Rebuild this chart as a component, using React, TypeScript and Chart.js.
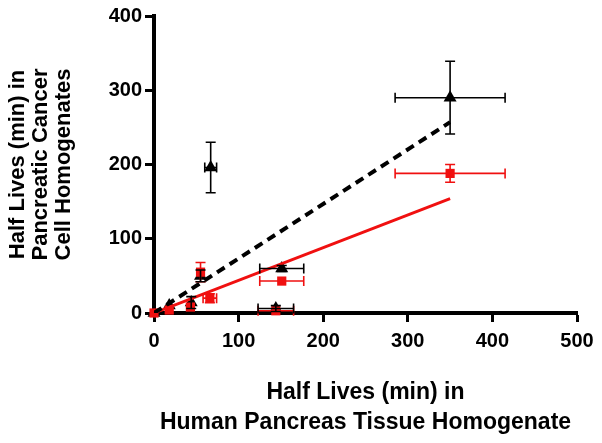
import React, { useEffect, useRef } from "react";
import { Chart, registerables } from "chart.js";

Chart.register(...registerables);

// Black triangles (series 1)
const blackX = [0, 18, 44, 55, 67, 144, 151, 350];
const blackY = [0, 10, 14, 50, 196, 6, 60, 290];
const blackXErr = [0, 0, 0, 0, 7, 21, 26, 65];
const blackYErr = [0, 0, 8, 8, 34, 4, 4, 49];

// Red squares (series 2)
const redX = [0, 18, 43, 55, 66, 144, 151, 350];
const redY = [0, 4, 8, 55, 20, 3, 43, 188];
const redXErr = [0, 0, 0, 0, 8, 21, 26, 65];
const redYErr = [0, 0, 0, 13, 6, 0, 0, 12];

// Regression lines
const blackFitX = [0, 350];
const blackFitY = [0, 257];
const redFitX = [0, 350];
const redFitY = [0, 154];

const xTicks = [0, 100, 200, 300, 400, 500];
const yTicks = [0, 100, 200, 300, 400];

const xTitle = ["Half Lives (min) in", "Human Pancreas Tissue Homogenate"];
const yTitle = ["Half Lives (min) in", "Pancreatic Cancer", "Cell Homogenates"];

const BLACK = "#000000";
const RED = "#f01010";
const FONT = "'Liberation Sans', Arial, sans-serif";

const errorBarPlugin = {
  id: "errorBars",
  afterDatasetsDraw(chart: any) {
    const ctx = chart.ctx;
    const xs = chart.scales.x;
    const ys = chart.scales.y;
    chart.data.datasets.forEach((ds: any) => {
      if (!ds.xErr) return;
      ctx.save();
      ctx.strokeStyle = ds.errColor;
      ctx.lineWidth = 1.6;
      ds.data.forEach((p: any, i: number) => {
        const px = xs.getPixelForValue(p.x);
        const py = ys.getPixelForValue(p.y);
        const xe = ds.xErr[i];
        const ye = ds.yErr[i];
        if (xe > 0) {
          const l = xs.getPixelForValue(p.x - xe);
          const r = xs.getPixelForValue(p.x + xe);
          ctx.beginPath();
          ctx.moveTo(l, py);
          ctx.lineTo(r, py);
          ctx.moveTo(l, py - 5);
          ctx.lineTo(l, py + 5);
          ctx.moveTo(r, py - 5);
          ctx.lineTo(r, py + 5);
          ctx.stroke();
        }
        if (ye > 0) {
          const t = ys.getPixelForValue(p.y + ye);
          const b = ys.getPixelForValue(p.y - ye);
          ctx.beginPath();
          ctx.moveTo(px, t);
          ctx.lineTo(px, b);
          ctx.moveTo(px - 5, t);
          ctx.lineTo(px + 5, t);
          ctx.moveTo(px - 5, b);
          ctx.lineTo(px + 5, b);
          ctx.stroke();
        }
      });
      ctx.restore();
    });
  },
};

export default function App() {
  const ref = useRef<HTMLCanvasElement>(null);
  useEffect(() => {
    if (!ref.current) return;
    const chart = new Chart(ref.current, {
      type: "scatter",
      data: {
        datasets: [
          {
            type: "line",
            data: blackFitX.map((x, i) => ({ x, y: blackFitY[i] })),
            borderColor: BLACK,
            borderWidth: 4,
            borderDash: [9, 6],
            pointRadius: 0,
            fill: false,
          } as any,
          {
            type: "line",
            data: redFitX.map((x, i) => ({ x, y: redFitY[i] })),
            borderColor: RED,
            borderWidth: 3,
            pointRadius: 0,
            fill: false,
          } as any,
          {
            data: redX.map((x, i) => ({ x, y: redY[i] })),
            pointStyle: "rect",
            pointRadius: 6.5,
            backgroundColor: RED,
            borderColor: RED,
            borderWidth: 0,
            clip: false,
            xErr: redXErr,
            yErr: redYErr,
            errColor: RED,
          } as any,
          {
            data: blackX.map((x, i) => ({ x, y: blackY[i] })),
            pointStyle: "triangle",
            pointRadius: 7.5,
            backgroundColor: BLACK,
            borderColor: BLACK,
            borderWidth: 0,
            clip: false,
            xErr: blackXErr,
            yErr: blackYErr,
            errColor: BLACK,
          } as any,
        ],
      },
      options: {
        animation: false,
        responsive: true,
        maintainAspectRatio: false,
        layout: { padding: { left: 0, right: 25, top: 16, bottom: 0 } },
        plugins: { legend: { display: false }, tooltip: { enabled: false } },
        scales: {
          x: {
            type: "linear",
            min: 0,
            max: 500,
            afterBuildTicks: (s: any) => {
              s.ticks = xTicks.map((v) => ({ value: v }));
            },
            afterFit: (s: any) => {
              s.height = 130;
            },
            grid: {
              display: true,
              drawOnChartArea: false,
              drawTicks: true,
              tickLength: 9,
              tickWidth: 3,
              tickColor: BLACK,
            },
            border: { display: true, width: 4, color: BLACK },
            ticks: {
              color: BLACK,
              padding: 7,
              maxRotation: 0,
              font: { family: FONT, size: 20, weight: "bold" },
            },
            title: {
              display: true,
              text: xTitle,
              color: BLACK,
              padding: { top: 0, bottom: 5 },
              font: { family: FONT, size: 23, weight: "bold", lineHeight: 30 / 23 },
            },
          },
          y: {
            type: "linear",
            min: 0,
            max: 400,
            afterBuildTicks: (s: any) => {
              s.ticks = yTicks.map((v) => ({ value: v }));
            },
            afterFit: (s: any) => {
              s.width = 154;
            },
            grid: {
              display: true,
              drawOnChartArea: false,
              drawTicks: true,
              tickLength: 9,
              tickWidth: 3,
              tickColor: BLACK,
            },
            border: { display: true, width: 4, color: BLACK },
            ticks: {
              color: BLACK,
              padding: 3,
              font: { family: FONT, size: 20, weight: "bold" },
            },
            title: {
              display: true,
              text: yTitle,
              color: BLACK,
              padding: { top: 6, bottom: 0 },
              font: { family: FONT, size: 22, weight: "bold", lineHeight: 23 / 22 },
            },
          },
        },
      },
      plugins: [errorBarPlugin],
    });
    return () => chart.destroy();
  }, []);
  return (
    <div style={{ position: "absolute", left: 0, top: 0, width: 602, height: 443, background: "#fff" }}>
      <canvas ref={ref} />
    </div>
  );
}
